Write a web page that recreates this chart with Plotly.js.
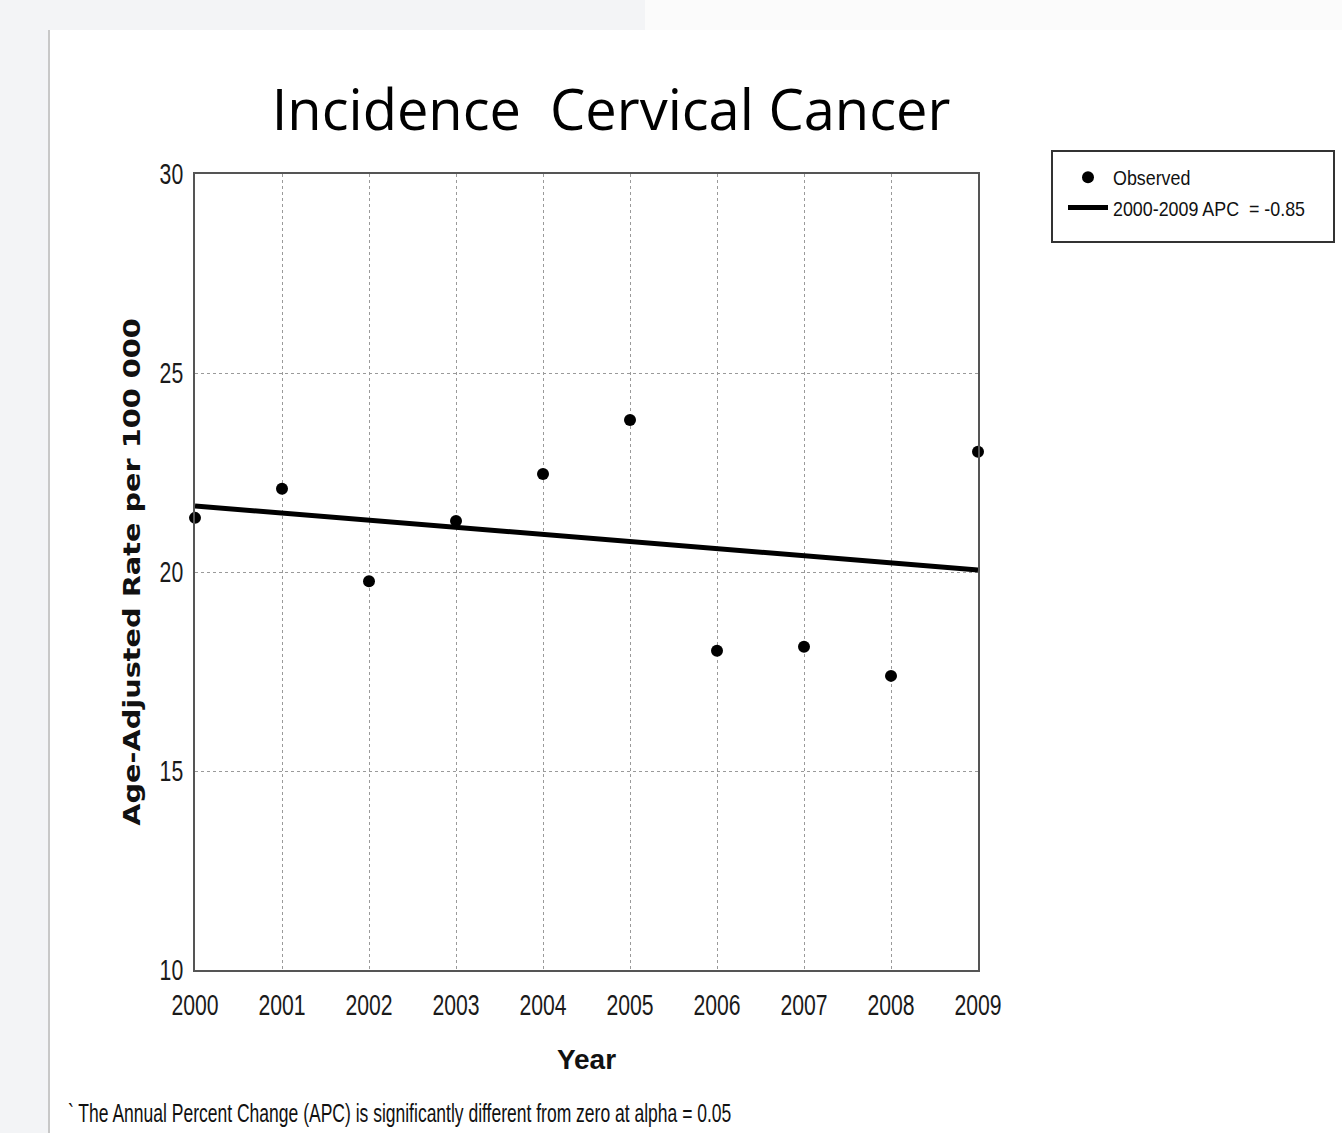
<!DOCTYPE html>
<html>
<head>
<meta charset="utf-8">
<script src="https://cdn.plot.ly/plotly-3.0.1.min.js"></script>
<style>
  html, body { margin: 0; padding: 0; background: #ffffff; }
  #chart { width: 1342px; height: 1133px; }
</style>
</head>
<body>
<div id="chart"></div>
<script>
const years = [2000, 2001, 2002, 2003, 2004, 2005, 2006, 2007, 2008, 2009];
const observed = [21.36, 22.09, 19.77, 21.28, 22.46, 23.82, 18.02, 18.12, 17.39, 23.02];
const fitted = [21.66, 21.48, 21.29, 21.11, 20.93, 20.75, 20.58, 20.40, 20.23, 20.05];
const yTicks = [10, 15, 20, 25, 30];
const chartTitle = 'Incidence  Cervical Cancer';
const observedName = 'Observed';
const fitName = '2000-2009 APC  = -0.85';
const yTitle = 'Age-Adjusted Rate per 100 000';
const xTitle = 'Year';
const footnote = '` The Annual Percent Change (APC) is significantly different from zero at alpha = 0.05';

const sans = '"Liberation Sans", Arial, sans-serif';

// plot area in pixels: x 195..978, y 174..970
const W = 1342, H = 1133;
const L = 195, R = 978, T = 174, B = 970;
const px = v => (v - L) / (R - L);
const py = v => (B - v) / (B - T);

const traces = [
  {
    x: years, y: observed, type: 'scatter', mode: 'markers', name: observedName,
    marker: { color: '#000', size: 12 }, cliponaxis: false
  },
  {
    x: years, y: fitted, type: 'scatter', mode: 'lines', name: fitName,
    line: { color: '#000', width: 5 }, cliponaxis: false
  }
];

const layout = {
  width: W, height: H,
  margin: { l: L, r: W - R, t: T, b: H - B, pad: 0, autoexpand: false },
  paper_bgcolor: '#f3f4f6',
  plot_bgcolor: '#ffffff',
  showlegend: true,
  title: {
    text: chartTitle,
    font: { family: '"Open Sans", "Noto Sans", sans-serif', size: 56, color: '#000' },
    x: 611 / W, xanchor: 'center', xref: 'container',
    y: 1 - 110 / H, yanchor: 'middle', yref: 'container'
  },
  xaxis: {
    range: [2000, 2009], tickvals: years, ticktext: years.map(String),
    showgrid: true, gridcolor: '#9a9a9a', griddash: 'dot', gridwidth: 1,
    showline: true, linecolor: '#555', linewidth: 2, mirror: true,
    zeroline: false, ticks: '', ticklabelstandoff: 8,
    tickfont: { family: sans, size: 29, color: '#1a1a1a' },
    title: { text: xTitle, font: { family: sans, size: 28, color: '#111', weight: 'bold' }, standoff: 30 },
    automargin: false
  },
  yaxis: {
    range: [10, 30], tickvals: yTicks,
    showgrid: true, gridcolor: '#9a9a9a', griddash: 'dot', gridwidth: 1,
    showline: true, linecolor: '#555', linewidth: 2, mirror: true,
    zeroline: false, ticks: '', ticklabelstandoff: 4,
    tickfont: { family: sans, size: 29, color: '#1a1a1a' },
    title: { text: yTitle, font: { family: '"DejaVu Sans", Verdana, sans-serif', size: 23, color: '#111', weight: 'bold' }, standoff: 4 },
    automargin: false
  },
  legend: {
    xref: 'container', yref: 'container',
    x: 1063 / W, y: 1 - 157 / H, xanchor: 'left', yanchor: 'top',
    bgcolor: 'rgba(0,0,0,0)', borderwidth: 0,
    font: { family: sans, size: 21, color: '#111' },
    tracegroupgap: 0, itemwidth: 40
  },
  shapes: [
    // white card
    { type: 'rect', xref: 'paper', yref: 'paper', x0: px(49), x1: px(1342), y0: py(1133), y1: py(30),
      fillcolor: '#ffffff', line: { width: 0 }, layer: 'below' },
    // card left edge shadow
    { type: 'line', xref: 'paper', yref: 'paper', x0: px(49), x1: px(49), y0: py(1133), y1: py(30),
      line: { color: '#c8c8c8', width: 2 }, layer: 'below' },
    // lighter top strip at right
    { type: 'rect', xref: 'paper', yref: 'paper', x0: px(645), x1: px(1342), y0: py(30), y1: py(0),
      fillcolor: '#fbfbfb', line: { width: 0 }, layer: 'below' },
    // legend frame
    { type: 'rect', xref: 'paper', yref: 'paper', x0: px(1052), x1: px(1334), y0: py(242), y1: py(151),
      fillcolor: '#ffffff', line: { color: '#333', width: 2 }, layer: 'below' }
  ],
  annotations: [
    { text: footnote, xref: 'paper', yref: 'paper', x: px(66), y: py(1113),
      xanchor: 'left', yanchor: 'middle', align: 'left', showarrow: false,
      font: { family: sans, size: 25, color: '#111' } }
  ]
};

// the reference uses a condensed face; compress glyphs horizontally
function condense(selector, factor) {
  document.querySelectorAll('#chart ' + selector).forEach(el => {
    const w = el.getComputedTextLength();
    if (w > 0) {
      el.setAttribute('textLength', (w * factor).toFixed(1));
      el.setAttribute('lengthAdjust', 'spacingAndGlyphs');
    }
  });
}

Plotly.newPlot('chart', traces, layout, { displayModeBar: false, staticPlot: true }).then(() => {
  condense('.xtick text', 0.73);
  condense('.ytick text', 0.73);
  condense('.legendtext', 0.85);
  condense('.annotation-text', 0.70);
  condense('.ytitle', 1.25);
});
</script>
</body>
</html>
